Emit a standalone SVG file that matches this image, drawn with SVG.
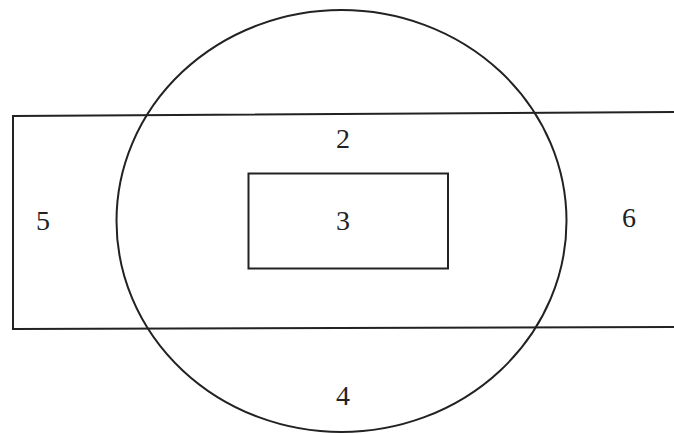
<svg xmlns="http://www.w3.org/2000/svg" width="674" height="434" viewBox="0 0 674 434">
<style>
.s{fill:none;stroke:#222;stroke-width:2}
.t{font-family:"Liberation Serif",serif;font-size:28px;fill:#222;text-anchor:middle}
</style>
<rect width="674" height="434" fill="#fff"/>
<g id="band"><polygon class="s" points="13,116 676,112 676,327 13,329"/></g>
<g id="circle"><ellipse class="s" cx="341.5" cy="221" rx="225" ry="211"/></g>
<g id="inner"><rect class="s" x="248.5" y="173.5" width="199.5" height="95"/></g>
<g id="labels">
<text class="t" x="343" y="148">2</text>
<text class="t" x="343" y="230">3</text>
<text class="t" x="43" y="230">5</text>
<text class="t" x="629" y="227">6</text>
<text class="t" x="343" y="405">4</text>
</g>
</svg>
